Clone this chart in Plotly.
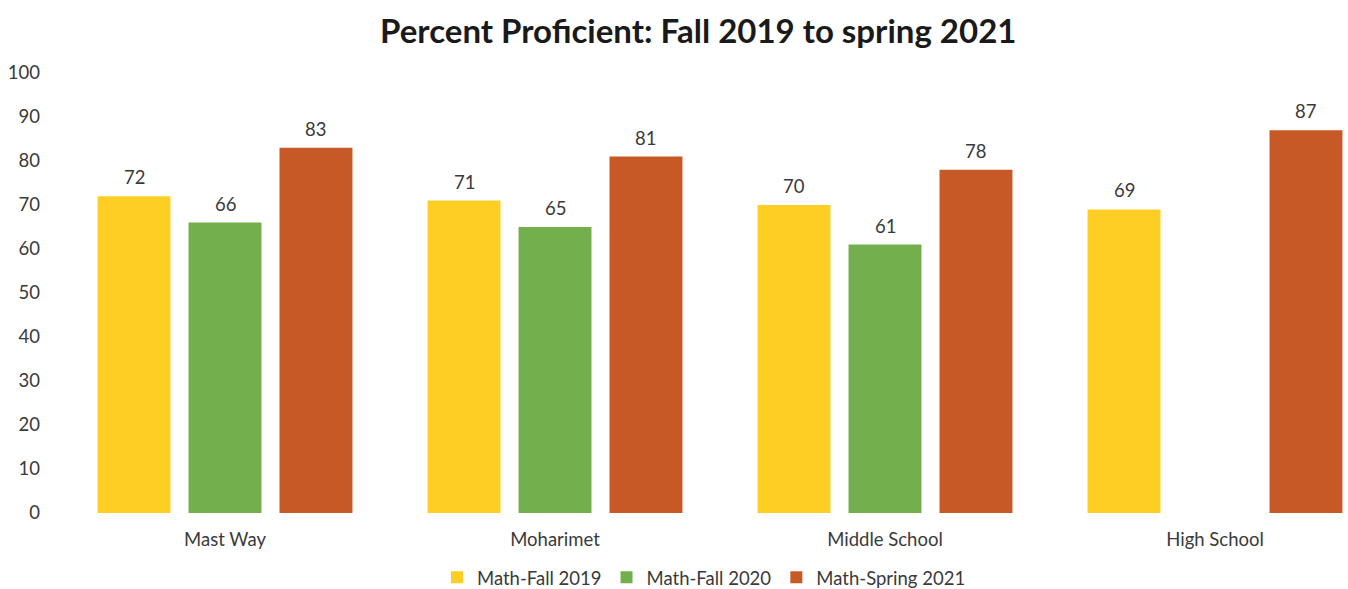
import plotly.graph_objects as go

# School categories and series values (percent proficient)
schools = ["Mast Way", "Moharimet", "Middle School", "High School"]
fall_2019 = [72, 71, 70, 69]
fall_2020 = [66, 65, 61, None]
spring_2021 = [83, 81, 78, 87]

series_names = ["Math-Fall 2019", "Math-Fall 2020", "Math-Spring 2021"]
series_values = [fall_2019, fall_2020, spring_2021]
series_colors = ["#FFCE24", "#73B04D", "#C75927"]

FONT = "Lato, 'Open Sans', sans-serif"
TEXT_COLOR = "#3a3a3a"
FONT_SIZE = 18.5
BARGAP = 0.173
BARGROUPGAP = 0.198

fig = go.Figure()
for name, vals, color in zip(series_names, series_values, series_colors):
    fig.add_trace(go.Bar(
        x=schools,
        y=vals,
        name=name,
        marker=dict(color=color, line=dict(width=0)),
        hoverinfo="x+y+name",
    ))

# Value labels above each bar, positioned by category index + group offset
n = len(series_values)
slot = (1 - BARGAP) / n
annotations = []
for j, vals in enumerate(series_values):
    offset = (j - (n - 1) / 2) * slot
    for i, v in enumerate(vals):
        if v is None:
            continue
        annotations.append(dict(
            x=i + offset, y=v, xref="x", yref="y",
            text=str(v), showarrow=False,
            yanchor="bottom", yshift=6,
            font=dict(family=FONT, size=FONT_SIZE, color=TEXT_COLOR),
        ))

fig.update_layout(
    width=1348,
    height=589,
    paper_bgcolor="white",
    plot_bgcolor="white",
    barmode="group",
    bargap=BARGAP,
    bargroupgap=BARGROUPGAP,
    margin=dict(l=60, r=0, t=73, b=76),
    title=dict(
        text="<b>Percent Proficient: Fall 2019 to spring 2021</b>",
        x=0.518, xanchor="center", xref="container",
        y=0.947, yanchor="middle", yref="container",
        font=dict(family=FONT, size=33, color="#1a1a1a"),
    ),
    xaxis=dict(
        type="category",
        range=[-0.5, 3.403],
        showgrid=False, zeroline=False, showline=False,
        ticks="", ticklabelstandoff=13,
        tickfont=dict(family=FONT, size=FONT_SIZE, color=TEXT_COLOR),
    ),
    yaxis=dict(
        range=[0, 100],
        dtick=10,
        showgrid=False, zeroline=False, showline=False,
        ticks="", ticklabelstandoff=19,
        tickfont=dict(family=FONT, size=FONT_SIZE, color=TEXT_COLOR),
    ),
    legend=dict(
        orientation="h",
        x=0.5, xanchor="center",
        xref="paper",
        y=0.019, yanchor="middle", yref="container",
        font=dict(family=FONT, size=FONT_SIZE, color=TEXT_COLOR),
        itemwidth=30,
        traceorder="normal",
    ),
    annotations=annotations,
    showlegend=True,
)

fig.write_html("out.html")
